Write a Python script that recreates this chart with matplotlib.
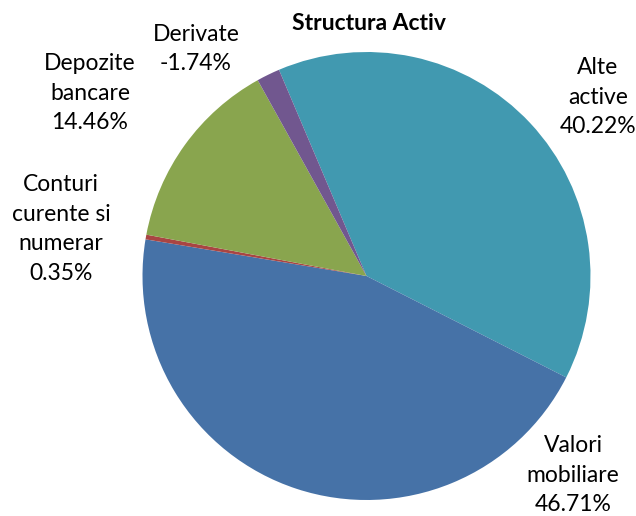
import matplotlib
matplotlib.use("Agg")
import matplotlib.pyplot as plt

# Data
categories = ["Alte\nactive", "Valori\nmobiliare", "Conturi\ncurente si\nnumerar", "Depozite\nbancare", "Derivate"]
values = [40.22, 46.71, 0.35, 14.46, -1.74]
colors = ["#4199B0", "#4672A7", "#A94543", "#89A54E", "#71578F"]

# label placement (pixel centers in the figure)
label_px = [(598, 97), (573, 475), (61, 229), (90, 93), (196, 49)]

W, H = 636, 516
fig = plt.figure(figsize=(W / 100, H / 100), dpi=100)
plt.rcParams['font.family'] = ['Lato', 'DejaVu Sans']

cx, cy, r = 366.5, 276, 224
ax = fig.add_axes([(cx - r) / W, (H - cy - r) / H, 2 * r / W, 2 * r / H])
sizes = [abs(v) for v in values]
ax.pie(sizes, colors=colors, startangle=113, counterclock=False,
       wedgeprops=dict(linewidth=0))
ax.set_xlim(-1, 1)
ax.set_ylim(-1, 1)
ax.set_aspect('equal')
ax.axis('off')

for cat, v, (px, py) in zip(categories, values, label_px):
    fig.text(px / W, 1 - py / H, f"{cat}\n{v:.2f}%", ha='center', va='center',
             fontsize=16.5, linespacing=1.5, color='black')

fig.text(369 / W, 1 - 24 / H, "Structura Activ", ha='center', va='center',
         fontsize=16.5, fontweight='bold')

fig.savefig("out.png", dpi=100)
